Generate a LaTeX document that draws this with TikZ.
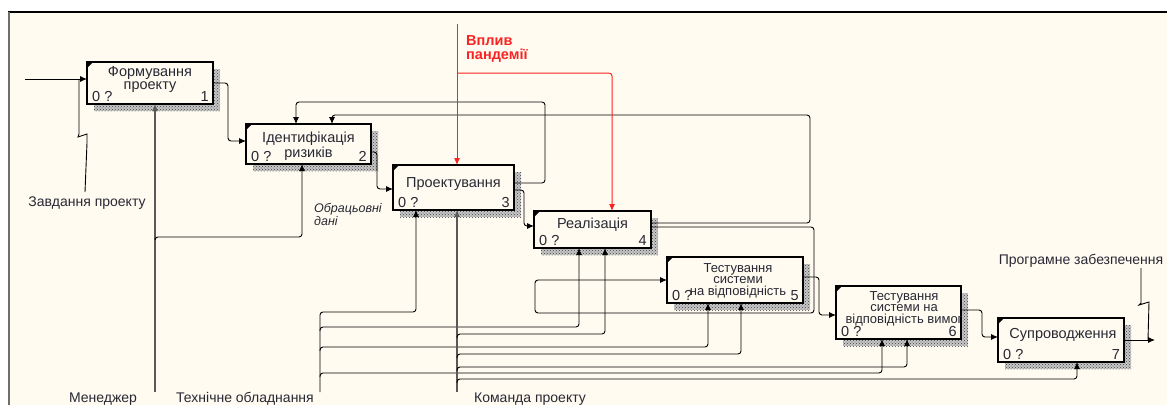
\documentclass[tikz,border=0pt]{standalone}
\usepackage{fontspec}
\setmainfont{Liberation Sans}
\usetikzlibrary{arrows.meta,patterns}
\definecolor{cream}{RGB}{255,251,240}
\definecolor{ink}{RGB}{40,40,52}
\definecolor{redc}{RGB}{250,35,35}
\definecolor{framec}{RGB}{110,110,110}
\newcommand\idefcorner[1]{\fill (#1.north west) -- ++(6,0) -- ++(-6,6) -- cycle;}
\begin{document}
\begin{tikzpicture}[x=1pt,y=-1pt,
  box/.style={draw=black, line width=1.7pt, fill=cream, inner sep=0pt, outer sep=0pt,
    preaction={fill=black!22, transform canvas={xshift=7pt,yshift=-7pt}},
    preaction={pattern=crosshatch dots, pattern color=black!75, transform canvas={xshift=7pt,yshift=-7pt}}},
  ttl/.style={inner sep=0pt, anchor=north, align=center, text=ink, font=\fontsize{14.5}{13.5}\selectfont},
  sttl/.style={ttl, font=\fontsize{13}{11.5}\selectfont},
  num/.style={inner sep=0pt, text=ink, font=\fontsize{14.5}{14}\selectfont},
  lbl/.style={inner sep=0pt, text=ink, anchor=base, font=\fontsize{14}{14}\selectfont},
  ln/.style={draw=black, line width=0.9pt, rounded corners=3pt},
  arr/.style={ln, -{Latex[length=7pt,width=6pt]}},
  mech/.style={draw=black!65, line width=1.2pt},
  ctl/.style={draw=redc, line width=1pt, rounded corners=3pt, -{Latex[length=7pt,width=6pt]}}]
\useasboundingbox (0,0) rectangle (1167,405);
\fill[white] (0,0) rectangle (1167,405);
\fill[cream] (9,12) rectangle (1167,405);
\draw[black, line width=1.5pt] (8,12) -- (1167,12);
\draw[framec, line width=2pt] (9,12) -- (9,405);

% boxes
\node[box, minimum width=126pt, minimum height=42pt] (b1) at (150,83) {};
\node[box, minimum width=125pt, minimum height=40pt] (b2) at (308.5,144) {};
\node[box, minimum width=121pt, minimum height=45pt] (b3) at (453.5,187.5) {};
\node[box, minimum width=117pt, minimum height=37pt] (b4) at (592.5,229.5) {};
\node[box, minimum width=136pt, minimum height=46pt] (b5) at (735,280) {};
\node[box, minimum width=125pt, minimum height=53pt] (b6) at (898.5,312.5) {};
\node[box, minimum width=126pt, minimum height=44pt] (b7) at (1061,340) {};
\foreach \b in {b1,b2,b3,b4,b5,b6,b7}{\idefcorner{\b}}

\node[ttl] (t1) at (150,66) {Формування\\проекту};
\node[ttl] (t2) at (308.5,132) {Ідентифікація\\ризиків};
\node[ttl] (t3) at (453.5,177) {Проектування};
\node[ttl] (t4) at (592.5,218) {Реалізація};
\node[sttl] (t5) at (738,263) {Тестування\\системи\\на відповідність};
\begin{scope}
\clip (b6.north west) rectangle (b6.south east);
\node[sttl] (t6) at (904,291) {Тестування\\системи на\\відповідність вимог};
\end{scope}
\node[ttl] (t7) at (1063,328) {Супроводження};

\foreach \b/\n in {b1/1,b2/2,b3/3,b4/4,b5/5,b6/6,b7/7}{
  \node[num, anchor=base west] (z\b) at ([xshift=5pt,yshift=2.5pt]\b.south west) {0 ?};
  \node[num, anchor=base east] (n\b) at ([xshift=-4pt,yshift=2.5pt]\b.south east) {\n};
}

% input
\coordinate (task) at (25,79);
\coordinate (taskj) at (79,79);
\coordinate (taskl) at (85,192);
\draw[arr] (task) -- (b1.west |- task);
\draw[line width=0.9pt] (taskj) -- (79,134) -- (78,137) -- (87,134) -- (87,143) -- (taskl);
\node[lbl] (ltask) at (87,206) {Завдання проекту};

% flow between boxes
\draw[arr] (b1.east |- 0,83) -- (228,83) -- (228,141) -- (b2.west |- 0,141);
\draw[arr] (b2.east |- 0,152) -- (377,152) -- (377,189) -- (b3.west |- 0,189);
\draw[arr] (b3.east |- 0,190) -- (524,190) -- (524,226) -- (b4.west |- 0,226);
\draw[arr] (b5.east |- 0,277) -- (819,277) -- (819,315) -- (b6.west |- 0,315);
\draw[arr] (b6.east |- 0,310) -- (982,310) -- (982,337) -- (b7.west |- 0,337);

% feedback
\draw[arr] (b3.east |- 0,183) -- (545,183) -- (545,102) -- (296,102) -- (296,0 |- b2.north);
\draw[arr] (b4.east |- 0,223) -- (810,223) -- (810,115) -- (332,115) -- (332,0 |- b2.north);
\draw[arr] (b4.east |- 0,227) -- (814,227) -- (814,313) -- (535,313) -- (535,280) -- (b5.west |- 0,280);

% output
\coordinate (soft) at (1155,340);
\draw[ln, -{Latex[length=7pt,width=6pt]}] (b7.east |- soft) -- (soft);
\coordinate (softl) at (1141,268);
\draw[line width=0.9pt] (softl) -- (1141,303) -- (1139,305) -- (1149,302) -- (1148,340);
\node[lbl] (lsoft) at (1081,264) {Програмне забезпечення};

% control (red)
\coordinate (pand) at (457,24);
\draw[ctl] (pand) -- (pand |- b3.north);
\draw[ctl] (pand |- 0,73) -- (612,73) -- (612,0 |- b4.north);
\node[inner sep=0pt, anchor=north west, align=left, text=redc, font=\bfseries\fontsize{14.5}{14}\selectfont] (lpand) at (466,35) {Вплив\\пандемії};

% mechanisms
\coordinate (man) at (155,392);
\draw[mech, -{Latex[length=7pt,width=6pt]}] (man) -- (man |- b1.south);
\draw[arr] (man |- 0,240) -- (155,237) -- (302,237) -- (302,0 |- b2.south);
\node[inner sep=0pt, anchor=north west, align=left, text=ink, font=\itshape\fontsize{12.5}{13}\selectfont] (lfb) at (314,203) {Обрацьовні\\дані};
\node[lbl] (lman) at (103,402) {Менеджер};

\coordinate (tech) at (320,392);
\draw[arr] (tech) -- (320,312) -- (416,312) -- (416,0 |- b3.south);
\draw[arr] (tech |- 0,331) -- (320,327) -- (579,327) -- (579,0 |- b4.south);
\draw[arr] (tech |- 0,351) -- (320,347) -- (708,347) -- (708,0 |- b5.south);
\draw[arr] (tech |- 0,377) -- (320,373) -- (882,373) -- (882,0 |- b6.south);
\node[lbl] (ltech) at (245,402) {Технічне обладнання};

\coordinate (team) at (457,392);
\draw[mech, -{Latex[length=7pt,width=6pt]}] (team) -- (team |- b3.south);
\draw[arr] (team |- 0,338) -- (457,334) -- (605,334) -- (605,0 |- b4.south);
\draw[arr] (team |- 0,358) -- (457,354) -- (741,354) -- (741,0 |- b5.south);
\draw[arr] (team |- 0,371) -- (457,367) -- (907,367) -- (907,0 |- b6.south);
\draw[arr] (team |- 0,383) -- (457,379) -- (1077,379) -- (1077,0 |- b7.south);
\node[lbl] (lteam) at (530,402) {Команда проекту};
\end{tikzpicture}
\end{document}
